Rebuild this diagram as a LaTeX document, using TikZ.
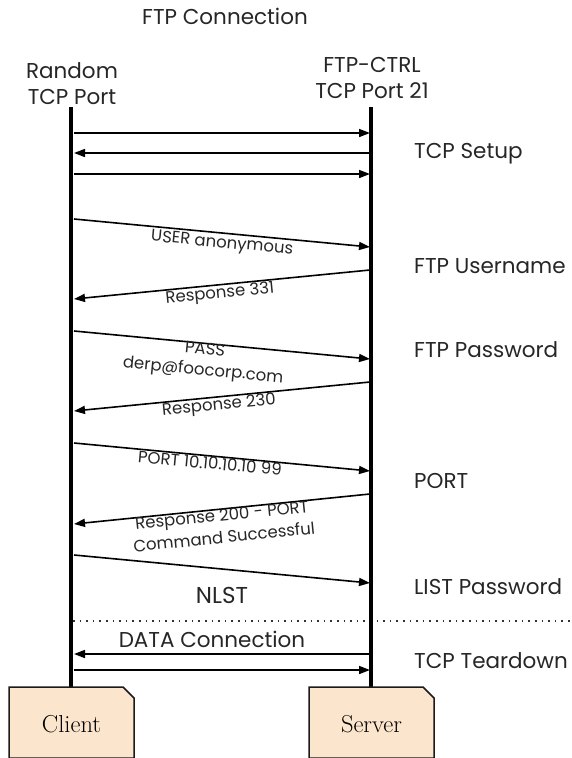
\documentclass[tikz,border=0pt]{standalone}
\usepackage{fontspec}
\setsansfont{Poppins}
\usetikzlibrary{arrows.meta}
\definecolor{boxfill}{HTML}{FCE5CD}
\definecolor{boxline}{HTML}{1A1A1A}
\tikzset{
  lifeline/.style={line width=4pt, black},
  msg/.style={line width=1.6pt, -{Triangle[length=11pt,width=8pt]}},
  sidelabel/.style={font=\sffamily\fontsize{21.5}{25}\selectfont, anchor=west, inner sep=0pt, text=black!85},
  headlabel/.style={font=\sffamily\fontsize{21.5}{26}\selectfont, align=center, inner sep=0pt, text=black!85},
  msglabel/.style={font=\sffamily\fontsize{16.5}{21}\selectfont, align=center, inner sep=0pt, text=black!85},
  actor/.style={fill=boxfill, draw=boxline, line width=1.5pt, line join=miter},
  actorlabel/.style={font=\fontsize{24.5}{28}\selectfont, inner sep=0pt}
}
\begin{document}
\begin{tikzpicture}[x=1pt,y=-1pt]
\useasboundingbox (0,0) rectangle (572,758);

% title and lifeline headers
\node[headlabel] (title) at (225,16) {FTP Connection};
\node[headlabel] (chead) at (72,84) {Random\\TCP Port};
\node[headlabel] (shead) at (372,78) {FTP-CTRL\\TCP Port 21};

% lifeline end points
\coordinate (cT) at (71,107);
\coordinate (cB) at (71,687);
\coordinate (sT) at (371,107);
\coordinate (sB) at (371,687);

% separator between control and data channel
\coordinate (dotL) at (73,621);
\coordinate (dotR) at (572,621);
\draw[line width=1.6pt, dash pattern=on 1.6pt off 5pt, black!80] (dotL) -- (dotR);

\draw[lifeline] (cT) -- (cB);
\draw[lifeline] (sT) -- (sB);

% message end points: c = client side, s = server side
\foreach \n/\cy/\sy in {a/133/133, b/153/153, c/174/174,
                        d/219/247, e/299/270, f/331/359, g/411/382,
                        h/443/471, i/524/494, j/555/583, k/654/654, l/670/670}{
  \coordinate (c\n) at (74,\cy);
  \coordinate (s\n) at (370,\sy);
}

% TCP setup
\draw[msg] (ca) -- (sa);
\draw[msg] (sb) -- (cb);
\draw[msg] (cc) -- (sc);

% FTP control exchange
\draw[msg] (cd) -- (sd);
\draw[msg] (se) -- (ce);
\draw[msg] (cf) -- (sf);
\draw[msg] (sg) -- (cg);
\draw[msg] (ch) -- (sh);
\draw[msg] (si) -- (ci);
\draw[msg] (cj) -- (sj);

% data connection
\draw[msg] (sk) -- (ck);
\draw[msg] (cl) -- (sl);

% message labels
\node[msglabel, rotate=-5.4] (luser) at (222,244) {USER anonymous};
\node[msglabel, rotate=5.6] (l331) at (220,294) {Response 331};
\node[msglabel, rotate=-5.4] (lpass) at (204,361) {PASS\\derp@foocorp.com};
\node[msglabel, rotate=5.6] (l230) at (219,406) {Response 230};
\node[msglabel, rotate=-5.4] (lport) at (210,463) {PORT 10.10.10.10 99};
\node[msglabel, rotate=5.8, font=\sffamily\fontsize{16.5}{22}\selectfont] (l200) at (223,526) {Response 200 - PORT\\Command Successful};
\node[sidelabel, anchor=center, font=\sffamily\fontsize{23}{26}\selectfont] (lnlst) at (222,595) {NLST};
\node[sidelabel, anchor=center] (ldata) at (212,639) {DATA Connection};

% phase labels
\node[sidelabel] (ptcp) at (414,154) {TCP Setup};
\node[sidelabel] (puser) at (414,266) {FTP Username};
\node[sidelabel] (ppass) at (414,350) {FTP Password};
\node[sidelabel] (pport) at (414,481) {PORT};
\node[sidelabel] (plist) at (414,587) {LIST Password};
\node[sidelabel] (pdown) at (414,661) {TCP Teardown};

% actors with folded corner
\draw[actor] (9,758) -- (9,687) -- (123,687) -- (134,698) -- (134,758) -- cycle;
\node[actorlabel] (client) at (71.5,724) {Client};
\draw[actor] (309,758) -- (309,687) -- (423,687) -- (434,698) -- (434,758) -- cycle;
\node[actorlabel] (server) at (371.5,724) {Server};
\end{tikzpicture}
\end{document}
